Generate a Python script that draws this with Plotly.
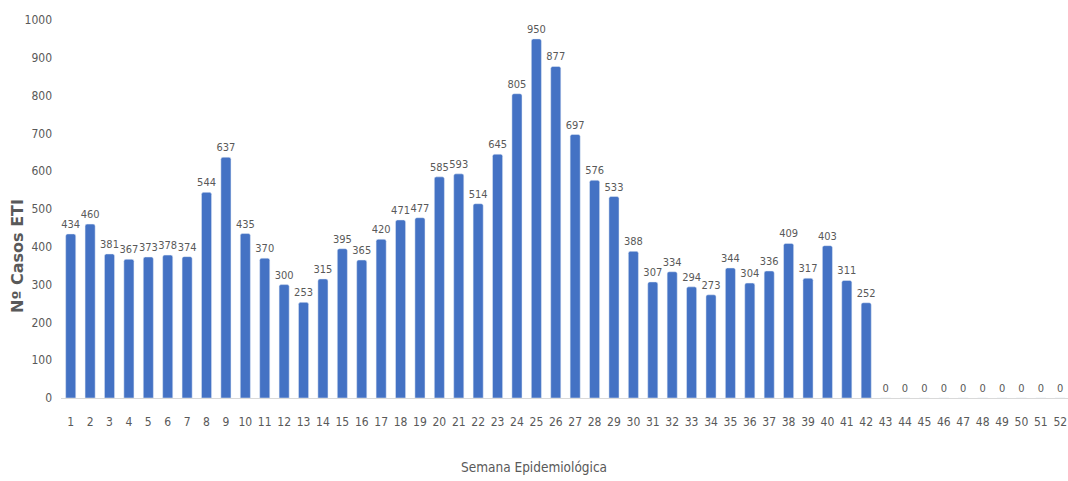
import plotly.graph_objects as go

weeks = list(range(1, 53))
cases = [434, 460, 381, 367, 373, 378, 374, 544, 637, 435,
         370, 300, 253, 315, 395, 365, 420, 471, 477, 585,
         593, 514, 645, 805, 950, 877, 697, 576, 533, 388,
         307, 334, 294, 273, 344, 304, 336, 409, 317, 403,
         311, 252, 0, 0, 0, 0, 0, 0, 0, 0, 0, 0]
y_ticks = [0, 100, 200, 300, 400, 500, 600, 700, 800, 900, 1000]

NARROW = "DejaVu Sans Condensed, Liberation Sans Narrow, Arial Narrow, sans-serif"
GREY = "#595959"

W, H = 1068, 481
L, R, T, B = 61, 0, 20, 83
PW, PH = W - L - R, H - T - B

fig = go.Figure(go.Bar(
    x=weeks, y=cases,
    marker=dict(color="#4472C4", cornerradius=2),
    text=[str(v) for v in cases], textposition="outside",
    constraintext="none",
    textfont=dict(family=NARROW, size=11, color=GREY),
    cliponaxis=False,
))

fig.update_layout(
    width=W, height=H,
    margin=dict(l=L, r=R, t=T, b=B),
    plot_bgcolor="white", paper_bgcolor="white",
    bargap=0.48, showlegend=False,
    xaxis=dict(
        range=[0.5, 52.4], tickmode="array", tickvals=weeks,
        ticktext=[str(w) for w in weeks],
        tickfont=dict(family=NARROW, size=12, color=GREY),
        showgrid=False, zeroline=False, showline=True,
        linecolor="#D9D9D9", linewidth=1, ticks="",
        ticklabelstandoff=13,
    ),
    yaxis=dict(
        range=[0, 1000], tickmode="array", tickvals=y_ticks,
        ticktext=[str(v) for v in y_ticks],
        tickfont=dict(family=NARROW, size=12, color=GREY),
        showgrid=False, zeroline=False, showline=False,
        ticklabelstandoff=8,
    ),
    annotations=[
        dict(
            text="<b>Nº Casos ETI</b>", textangle=-90,
            xref="paper", yref="paper",
            x=(17 - L) / PW, y=(H - B - 256) / PH,
            xanchor="center", yanchor="middle", showarrow=False,
            font=dict(family="DejaVu Sans, Verdana, sans-serif", size=16, color=GREY),
        ),
        dict(
            text="Semana Epidemiológica",
            xref="paper", yref="paper",
            x=(534 - L) / PW, y=(H - B - 467) / PH,
            xanchor="center", yanchor="middle", showarrow=False,
            font=dict(family=NARROW, size=13.5, color=GREY),
        ),
    ],
)

fig.write_html(
    "out.html",
    config={"displayModeBar": False},
    post_script="document.body.style.margin='0';document.body.style.overflow='hidden';",
)
